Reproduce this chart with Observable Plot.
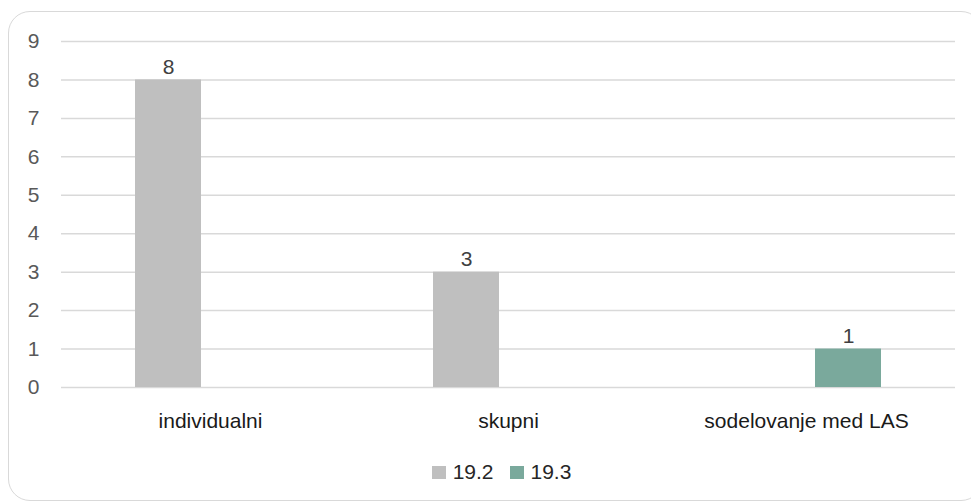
<!DOCTYPE html>
<html>
<head>
<meta charset="utf-8">
<script src="https://cdn.jsdelivr.net/npm/d3@7"></script>
<script src="https://cdn.jsdelivr.net/npm/@observablehq/plot@0.6"></script>
<style>
  html, body { margin: 0; padding: 0; background: #fff; }
  body { width: 971px; height: 502px; position: relative; overflow: hidden; font-family: "Liberation Sans", Arial, sans-serif; }
  #frame { position: absolute; left: 8px; top: 11px; width: 975px; height: 490px; border: 1.5px solid #d9d9d9; border-radius: 22px; box-sizing: border-box; }
  #chart { position: absolute; left: 0; top: 0; }
  #legend { position: absolute; left: 0; top: 460px; width: 1003px; display: flex; justify-content: center; gap: 16px; font-size: 21px; color: #262626; }
  .item { display: flex; align-items: center; gap: 7px; }
  .sw { width: 14px; height: 13px; display: inline-block; }
</style>
</head>
<body>
<div id="frame"></div>
<div id="chart"></div>
<div id="legend"></div>
<script>
const categories = ["individualni", "skupni", "sodelovanje med LAS"];
const series = ["19.2", "19.3"];
const values192 = [8, 3, 0];
const values193 = [0, 0, 1];
const colors = ["#bfbfbf", "#7aa99c"];
const yTicks = [0, 1, 2, 3, 4, 5, 6, 7, 8, 9];

const data = categories.flatMap((c, i) => [
  {category: c, series: series[0], value: values192[i]},
  {category: c, series: series[1], value: values193[i]}
]);
const shown = data.filter(d => d.value > 0);

const plot = Plot.plot({
  width: 971,
  height: 440,
  marginLeft: 60,
  marginRight: 16,
  marginTop: 41,
  marginBottom: 53,
  style: {fontFamily: "'Liberation Sans', Arial, sans-serif", fontSize: "21px", background: "transparent"},
  fx: {domain: categories, padding: 0, label: null},
  x: {domain: series, axis: null, paddingInner: 0.22, paddingOuter: 0.88},
  y: {domain: [0, 9], label: null},
  color: {domain: series, range: colors},
  marks: [
    Plot.gridY(yTicks, {stroke: "#d9d9d9", strokeOpacity: 1, strokeWidth: 1.5}),
    Plot.axisY(yTicks, {tickSize: 0, tickPadding: 22, fill: "#595959", fontSize: 21, label: null}),
    Plot.axisFx({anchor: "bottom", tickSize: 0, tickPadding: 26, fill: "#1a1a1a", fontSize: 21, label: null}),
    Plot.barY(shown, {fx: "category", x: "series", y: "value", fill: "series"}),
    Plot.text(shown, {fx: "category", x: "series", y: "value", text: d => String(d.value), dy: -13, fill: "#404040", fontSize: 21})
  ]
});
document.getElementById("chart").appendChild(plot);

const legend = document.getElementById("legend");
series.forEach((s, i) => {
  const it = document.createElement("div");
  it.className = "item";
  const sw = document.createElement("span");
  sw.className = "sw";
  sw.style.background = colors[i];
  const t = document.createElement("span");
  t.textContent = s;
  it.appendChild(sw);
  it.appendChild(t);
  legend.appendChild(it);
});
</script>
</body>
</html>
